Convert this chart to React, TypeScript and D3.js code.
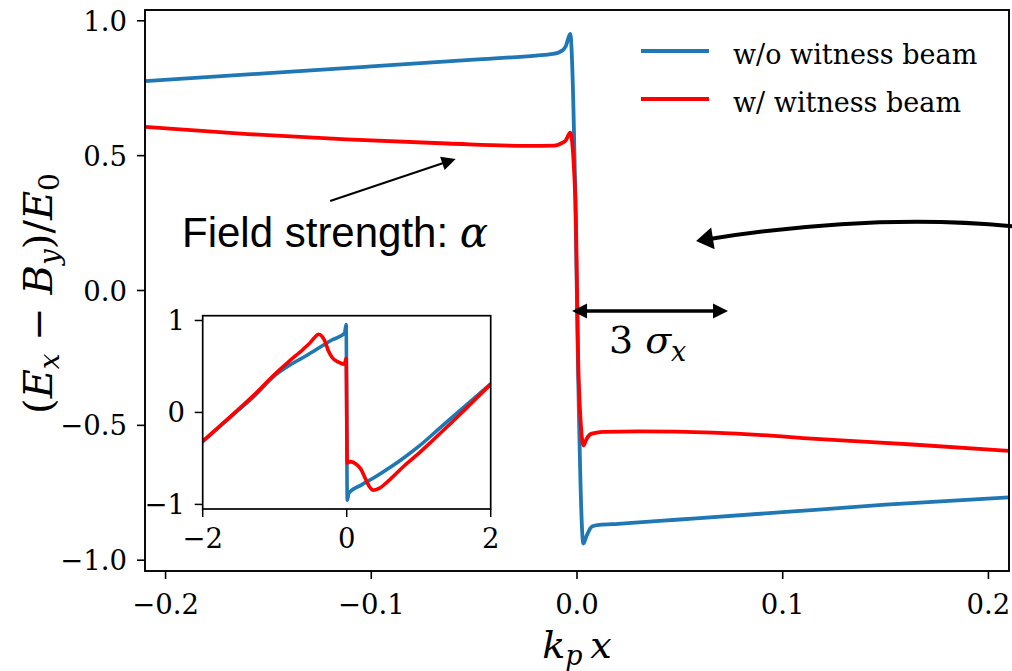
import React from 'react';
import * as d3 from 'd3';

// ---------- main panel data ----------
const blueX = [-0.21, -0.15, -0.10, -0.05, -0.02, -0.0117, -0.0068, -0.0055, -0.0033, -0.0008, 0.0006, 0.0031, 0.0045, 0.0073, 0.011, 0.02, 0.05, 0.10, 0.15, 0.21];
const blueY = [0.776, 0.806, 0.831, 0.856, 0.871, 0.877, 0.892, 0.905, 0.951, 0.34, -0.326, -0.938, -0.913, -0.875, -0.869, -0.865, -0.849, -0.822, -0.794, -0.767];

const redX = [-0.21, -0.16, -0.112, -0.063, -0.024, -0.011, -0.0068, -0.0055, -0.0033, -0.0008, 0.0008, 0.0032, 0.0045, 0.0065, 0.009, 0.013, 0.03, 0.066, 0.09, 0.114, 0.163, 0.21];
const redY = [0.607, 0.58, 0.56, 0.545, 0.536, 0.537, 0.549, 0.556, 0.585, 0.34, -0.326, -0.574, -0.553, -0.533, -0.528, -0.524, -0.522, -0.527, -0.536, -0.549, -0.571, -0.595];

// ---------- inset data ----------
const inBlueX = [-2.0, -1.6, -1.3, -1.0, -0.8, -0.6, -0.4, -0.2, -0.03, -0.008, 0.008, 0.03, 0.2, 0.4, 0.6, 0.8, 1.0, 1.3, 1.6, 2.0];
const inBlueY = [-0.315, -0.04, 0.165, 0.40, 0.51, 0.60, 0.695, 0.79, 0.862, 0.955, -0.955, -0.875, -0.79, -0.70, -0.60, -0.49, -0.37, -0.165, 0.04, 0.31];

const inRedX = [-2.0, -1.6, -1.3, -1.0, -0.8, -0.6, -0.5, -0.44, -0.39, -0.34, -0.3, -0.255, -0.2, -0.12, -0.03, -0.008, 0.008, 0.05, 0.14, 0.2, 0.26, 0.31, 0.37, 0.45, 0.6, 0.8, 1.0, 1.2, 1.45, 1.7, 2.0];
const inRedY = [-0.315, -0.035, 0.18, 0.415, 0.556, 0.69, 0.765, 0.82, 0.85, 0.825, 0.77, 0.67, 0.595, 0.55, 0.525, 0.59, -0.55, -0.535, -0.567, -0.62, -0.72, -0.80, -0.845, -0.825, -0.73, -0.58, -0.445, -0.30, -0.115, 0.075, 0.305];

// ---------- ticks ----------
const mainXTicks = [-0.2, -0.1, 0.0, 0.1, 0.2];
const mainXTickLabels = ['\u22120.2', '\u22120.1', '0.0', '0.1', '0.2'];
const mainYTicks = [-1.0, -0.5, 0.0, 0.5, 1.0];
const mainYTickLabels = ['\u22121.0', '\u22120.5', '0.0', '0.5', '1.0'];
const inXTicks = [-2, 0, 2];
const inXTickLabels = ['\u22122', '0', '2'];
const inYTicks = [-1, 0, 1];
const inYTickLabels = ['\u22121', '0', '1'];

const legendLabels = ['w/o witness beam', 'w/ witness beam'];

// annotation anchors in data coordinates
const fieldArrowTail = [-0.12, 0.332];
const fieldArrowTip = [-0.059, 0.488];
const fieldTextPos = [-0.192, 0.161];
const sigmaArrowFrom = [-0.0024, -0.076];
const sigmaArrowTo = [0.0734, -0.076];
const sigmaTextPos = [0.0155, -0.232];
const curveStart = [0.2154, 0.2355];
const curveCtrl = [0.1473, 0.291];
const curveTip = [0.0579, 0.1835];

const BLUE = '#1f77b4';
const RED = '#ff0000';
const SERIF = '"DejaVu Serif", "Liberation Serif", serif';
const SANS = '"Liberation Sans", Arial, sans-serif';

function head(tip: number[], from: number[], L: number, Wd: number) {
  const dx = tip[0] - from[0];
  const dy = tip[1] - from[1];
  const len = Math.hypot(dx, dy);
  const ux = dx / len, uy = dy / len;
  const nx = -uy, ny = ux;
  const bx = tip[0] - L * ux, by = tip[1] - L * uy;
  return {
    pts: `${tip[0]},${tip[1]} ${bx + Wd * nx},${by + Wd * ny} ${bx - Wd * nx},${by - Wd * ny}`,
    base: [bx + 0.3 * L * ux, by + 0.3 * L * uy],
  };
}

export default function App() {
  const W = 1012, H = 671;
  const x = d3.scaleLinear().domain([-0.21, 0.21]).range([145, 1009]);
  const y = d3.scaleLinear().domain([-1.04, 1.04]).range([571, 10]);
  const xi = d3.scaleLinear().domain([-2, 2]).range([202.7, 490.7]);
  const yi = d3.scaleLinear().domain([-1.05, 1.052]).range([509, 315.7]);

  const mk = (xs: number[], ys: number[], sx: any, sy: any) =>
    d3.line<number>().x((d) => sx(xs[d])).y((d) => sy(ys[d])).curve(d3.curveMonotoneX)(d3.range(xs.length)) as string;

  const [x0, x1] = x.range();
  const [y0, y1] = y.range();
  const [ix0, ix1] = xi.range();
  const [iy0, iy1] = yi.range();

  const fTail = [x(fieldArrowTail[0]), y(fieldArrowTail[1])];
  const fTip = [x(fieldArrowTip[0]), y(fieldArrowTip[1])];
  const fHead = head(fTip, fTail, 14, 7);

  const sA = [x(sigmaArrowFrom[0]), y(sigmaArrowFrom[1])];
  const sB = [x(sigmaArrowTo[0]), y(sigmaArrowTo[1])];
  const sHeadB = head(sB, sA, 15, 7.5);
  const sHeadA = head(sA, sB, 15, 7.5);

  const cS = [x(curveStart[0]), y(curveStart[1])];
  const cC = [x(curveCtrl[0]), y(curveCtrl[1])];
  const cT = [x(curveTip[0]), y(curveTip[1])];
  const cHead = head(cT, cC, 17, 11);

  const ftxt = [x(fieldTextPos[0]), y(fieldTextPos[1])];
  const stxt = [x(sigmaTextPos[0]), y(sigmaTextPos[1])];

  return (
    <svg width={W} height={H} style={{ position: 'absolute', left: 0, top: 0, display: 'block', background: '#fff' }}>
      <defs>
        <clipPath id="mainClip">
          <rect x={x0} y={y1} width={x1 - x0} height={y0 - y1} />
        </clipPath>
        <clipPath id="inClip">
          <rect x={ix0} y={iy1} width={ix1 - ix0} height={iy0 - iy1} />
        </clipPath>
      </defs>
      <rect x={0} y={0} width={W} height={H} fill="#fff" />

      <g clipPath="url(#mainClip)" fill="none" strokeLinejoin="round" strokeLinecap="round">
        <path d={mk(blueX, blueY, x, y)} stroke={BLUE} strokeWidth={3.8} />
        <path d={mk(redX, redY, x, y)} stroke={RED} strokeWidth={3.8} />
      </g>

      <rect x={x0} y={y1} width={x1 - x0} height={y0 - y1} fill="none" stroke="#000" strokeWidth={1.9} />

      {mainXTicks.map((t, i) => (
        <g key={'mx' + i}>
          <line x1={x(t)} x2={x(t)} y1={y0} y2={y0 + 8} stroke="#000" strokeWidth={1.6} />
          <text x={x(t)} y={614} textAnchor="middle" fontFamily={SERIF} fontSize={27.5} fill="#000">{mainXTickLabels[i]}</text>
        </g>
      ))}
      {mainYTicks.map((t, i) => (
        <g key={'my' + i}>
          <line x1={x0 - 8} x2={x0} y1={y(t)} y2={y(t)} stroke="#000" strokeWidth={1.6} />
          <text x={127} y={y(t) + 10} textAnchor="end" fontFamily={SERIF} fontSize={27.5} fill="#000">{mainYTickLabels[i]}</text>
        </g>
      ))}

      <text x={577} y={658} textAnchor="middle" fontFamily={SERIF} fontSize={38} fill="#000">
        <tspan fontStyle="italic">k</tspan>
        <tspan fontStyle="italic" fontSize={27} dy={7}>p</tspan>
        <tspan dy={-7}>{'\u2009'}</tspan>
        <tspan fontStyle="italic">x</tspan>
      </text>
      <text transform={`translate(52, ${(y0 + y1) / 2 + 3}) rotate(-90)`} textAnchor="middle" fontFamily={SERIF} fontSize={40} fill="#000">
        <tspan>(</tspan>
        <tspan fontStyle="italic">E</tspan>
        <tspan fontStyle="italic" fontSize={28} dy={7}>x</tspan>
        <tspan dy={-7}>{' \u2212 '}</tspan>
        <tspan fontStyle="italic">B</tspan>
        <tspan fontStyle="italic" fontSize={28} dy={7}>y</tspan>
        <tspan dy={-7}>)/</tspan>
        <tspan fontStyle="italic">E</tspan>
        <tspan fontSize={28} dy={7}>0</tspan>
      </text>

      {legendLabels.map((lab, i) => (
        <g key={'lg' + i}>
          <line x1={641} x2={709} y1={51 + i * 48} y2={51 + i * 48} stroke={i === 0 ? BLUE : RED} strokeWidth={3.8} />
          <text x={733} y={63.5 + i * 48} fontFamily={SERIF} fontSize={27} fill="#000">{lab}</text>
        </g>
      ))}

      <line x1={fTail[0]} y1={fTail[1]} x2={fHead.base[0]} y2={fHead.base[1]} stroke="#000" strokeWidth={2} />
      <polygon points={fHead.pts} fill="#000" />
      <text x={ftxt[0]} y={ftxt[1]} fontFamily={SANS} fontSize={42} fill="#000">
        Field strength: <tspan fontFamily={SERIF} fontStyle="italic">{'\u03b1'}</tspan>
      </text>

      <line x1={sHeadA.base[0]} y1={sA[1]} x2={sHeadB.base[0]} y2={sB[1]} stroke="#000" strokeWidth={3.5} />
      <polygon points={sHeadA.pts} fill="#000" />
      <polygon points={sHeadB.pts} fill="#000" />
      <text x={stxt[0]} y={stxt[1]} fontFamily={SERIF} fontSize={38} fill="#000">
        <tspan>3 </tspan>
        <tspan fontStyle="italic">{'\u03c3'}</tspan>
        <tspan fontStyle="italic" fontSize={27} dy={8}>x</tspan>
      </text>

      <path d={`M${cS[0]},${cS[1]} Q${cC[0]},${cC[1]} ${cHead.base[0]},${cHead.base[1]}`} fill="none" stroke="#000" strokeWidth={4} />
      <polygon points={cHead.pts} fill="#000" />

      <rect x={ix0} y={iy1} width={ix1 - ix0} height={iy0 - iy1} fill="#fff" />
      <g clipPath="url(#inClip)" fill="none" strokeLinejoin="round" strokeLinecap="round">
        <path d={mk(inBlueX, inBlueY, xi, yi)} stroke={BLUE} strokeWidth={3.6} />
        <path d={mk(inRedX, inRedY, xi, yi)} stroke={RED} strokeWidth={3.6} />
      </g>
      <rect x={ix0} y={iy1} width={ix1 - ix0} height={iy0 - iy1} fill="none" stroke="#000" strokeWidth={1.7} />
      {inXTicks.map((t, i) => (
        <g key={'ix' + i}>
          <line x1={xi(t)} x2={xi(t)} y1={iy0} y2={iy0 + 8} stroke="#000" strokeWidth={1.5} />
          <text x={xi(t)} y={548} textAnchor="middle" fontFamily={SERIF} fontSize={27.5} fill="#000">{inXTickLabels[i]}</text>
        </g>
      ))}
      {inYTicks.map((t, i) => (
        <g key={'iy' + i}>
          <line x1={ix0 - 8} x2={ix0} y1={yi(t)} y2={yi(t)} stroke="#000" strokeWidth={1.5} />
          <text x={185} y={yi(t) + 10} textAnchor="end" fontFamily={SERIF} fontSize={27.5} fill="#000">{inYTickLabels[i]}</text>
        </g>
      ))}
    </svg>
  );
}
